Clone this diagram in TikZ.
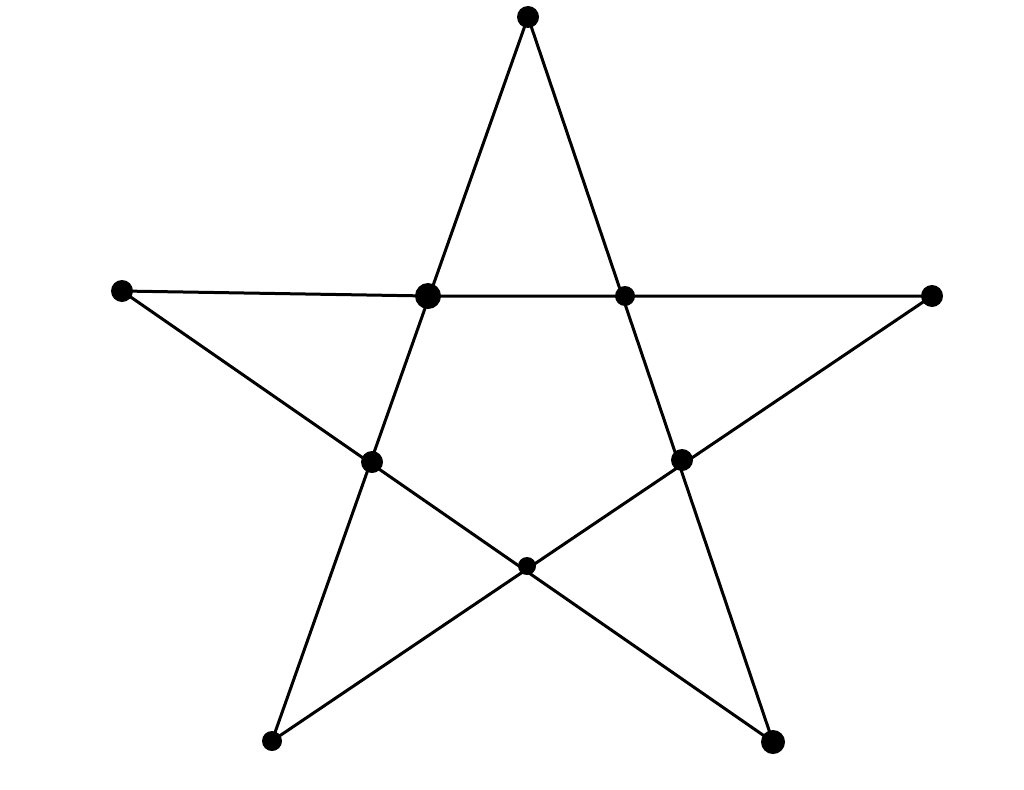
\documentclass[tikz,border=0pt]{standalone}
\begin{document}
\begin{tikzpicture}[x=1pt,y=-1pt,
  edge/.style={line width=3pt,black},
  blob/.style={circle,fill=black,inner sep=0pt,minimum size=#1}]
\useasboundingbox (0,0) rectangle (1024,789);
\coordinate (T) at (528,17);
\coordinate (L) at (122,291);
\coordinate (R) at (932,296);
\coordinate (BL) at (272,741);
\coordinate (BR) at (773,742);
\coordinate (I1) at (428,296);
\coordinate (I2) at (625,296);
\coordinate (I3) at (372,462);
\coordinate (I4) at (682,460);
\coordinate (I5) at (527,566);
\draw[edge] (T) -- (BL);
\draw[edge] (T) -- (BR);
\draw[edge] (L) -- (I1) -- (R);
\draw[edge] (L) -- (BR);
\draw[edge] (R) -- (BL);
\node[blob=22pt] (nT) at (T) {};
\node[blob=22pt] (nL) at (L) {};
\node[blob=22pt] (nR) at (R) {};
\node[blob=20pt] (nBL) at (BL) {};
\node[blob=24pt] (nBR) at (BR) {};
\node[blob=26pt] (nI1) at (I1) {};
\node[blob=20pt] (nI2) at (I2) {};
\node[blob=22pt] (nI3) at (I3) {};
\node[blob=22pt] (nI4) at (I4) {};
\node[blob=18pt] (nI5) at (I5) {};
\end{tikzpicture}
\end{document}
